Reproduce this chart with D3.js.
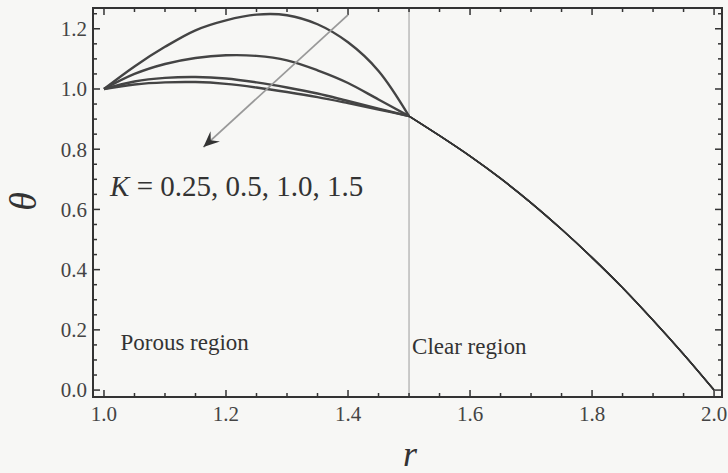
<!DOCTYPE html>
<html>
<head>
<meta charset="utf-8">
<script src="https://cdn.jsdelivr.net/npm/d3@7"></script>
<style>
  body { margin: 0; background: #f7f7f5; }
  svg { display: block; }
</style>
</head>
<body>
<div id="chart-container"></div>
<script>
// data
const rPorous = [1.0, 1.05, 1.1, 1.15, 1.2, 1.25, 1.3, 1.35, 1.4, 1.45, 1.5];
const thetaK025 = [1.0, 1.075, 1.14, 1.195, 1.228, 1.247, 1.245, 1.215, 1.155, 1.06, 0.91];
const thetaK05 = [1.0, 1.05, 1.083, 1.103, 1.112, 1.11, 1.095, 1.062, 1.02, 0.965, 0.91];
const thetaK10 = [1.0, 1.025, 1.037, 1.04, 1.035, 1.022, 1.005, 0.985, 0.96, 0.935, 0.91];
const thetaK15 = [1.0, 1.015, 1.022, 1.023, 1.017, 1.005, 0.99, 0.973, 0.953, 0.932, 0.91];
const rClear = [1.5, 1.55, 1.6, 1.65, 1.7, 1.75, 1.8, 1.85, 1.9, 1.95, 2.0];
const thetaClear = [0.91, 0.845, 0.777, 0.703, 0.622, 0.534, 0.44, 0.34, 0.232, 0.119, 0.0];
const xTickLabels = ["1.0", "1.2", "1.4", "1.6", "1.8", "2.0"];
const yTickLabels = ["0.0", "0.2", "0.4", "0.6", "0.8", "1.0", "1.2"];
const porousSeries = [thetaK025, thetaK05, thetaK10, thetaK15];

const width = 728;
const height = 473;
const frame = { left: 93, right: 722, top: 8, bottom: 397 };

const xScale = d3.scaleLinear().domain([0.982, 2.013]).range([frame.left, frame.right]);
const yScale = d3.scaleLinear().domain([-0.023, 1.269]).range([frame.bottom, frame.top]);

const svg = d3
  .select("#chart-container")
  .append("svg")
  .attr("width", width)
  .attr("height", height);

const serif = "'Liberation Serif', 'Times New Roman', serif";

// arrow marker
svg
  .append("defs")
  .append("marker")
  .attr("id", "head")
  .attr("viewBox", "-16 -8 18 16")
  .attr("refX", 0)
  .attr("refY", 0)
  .attr("markerWidth", 18)
  .attr("markerHeight", 16)
  .attr("markerUnits", "userSpaceOnUse")
  .attr("orient", "auto")
  .append("path")
  .attr("d", "M0,0 L-16,-7 L-10,0 L-16,7 Z")
  .attr("fill", "#333");

// vertical interface line at r = 1.5
svg
  .append("line")
  .attr("x1", xScale(1.5))
  .attr("x2", xScale(1.5))
  .attr("y1", frame.top)
  .attr("y2", frame.bottom)
  .attr("stroke", "#aaa")
  .attr("stroke-width", 1.2);

// ticks on all four sides, pointing inward
const minor = d3.range(0, 21).map((i) => +(1.0 + i * 0.05).toFixed(2));
const minorY = d3.range(0, 26).map((i) => +(i * 0.05).toFixed(2));
const isMajor = (v) => Math.abs(v * 5 - Math.round(v * 5)) < 1e-6;

const tickG = svg.append("g").attr("stroke", "#333").attr("stroke-width", 1.5);
minor.forEach((v) => {
  const len = isMajor(v) ? 7 : 4;
  tickG.append("line").attr("x1", xScale(v)).attr("x2", xScale(v))
    .attr("y1", frame.bottom).attr("y2", frame.bottom - len);
  tickG.append("line").attr("x1", xScale(v)).attr("x2", xScale(v))
    .attr("y1", frame.top).attr("y2", frame.top + len);
});
minorY.forEach((v) => {
  const len = isMajor(v) ? 7 : 4;
  tickG.append("line").attr("y1", yScale(v)).attr("y2", yScale(v))
    .attr("x1", frame.left).attr("x2", frame.left + len);
  tickG.append("line").attr("y1", yScale(v)).attr("y2", yScale(v))
    .attr("x1", frame.right).attr("x2", frame.right - len);
});

// frame
svg
  .append("rect")
  .attr("x", frame.left)
  .attr("y", frame.top)
  .attr("width", frame.right - frame.left)
  .attr("height", frame.bottom - frame.top)
  .attr("fill", "none")
  .attr("stroke", "#333")
  .attr("stroke-width", 2);

// tick labels
svg
  .selectAll(".xlab")
  .data(xTickLabels)
  .join("text")
  .attr("x", (d) => xScale(+d))
  .attr("y", 421)
  .attr("text-anchor", "middle")
  .style("font-family", serif)
  .style("font-size", "21px")
  .style("fill", "#444")
  .text((d) => d);

svg
  .selectAll(".ylab")
  .data(yTickLabels)
  .join("text")
  .attr("x", 87)
  .attr("y", (d) => yScale(+d))
  .attr("dy", "0.35em")
  .attr("text-anchor", "end")
  .style("font-family", serif)
  .style("font-size", "21px")
  .style("fill", "#444")
  .text((d) => d);

// curves
const line = d3
  .line()
  .x((d) => xScale(d[0]))
  .y((d) => yScale(d[1]))
  .curve(d3.curveCatmullRom);

porousSeries.forEach((vals) => {
  svg
    .append("path")
    .datum(rPorous.map((r, i) => [r, vals[i]]))
    .attr("fill", "none")
    .attr("stroke", "#444")
    .attr("stroke-width", 2.4)
    .attr("d", line);
});
for (let k = 0; k < porousSeries.length; k++) {
  svg
    .append("path")
    .datum(rClear.map((r, i) => [r, thetaClear[i]]))
    .attr("fill", "none")
    .attr("stroke", "#333")
    .attr("stroke-width", 1.5)
    .attr("d", line);
}

// arrow
svg
  .append("line")
  .attr("x1", xScale(1.4))
  .attr("y1", yScale(1.246))
  .attr("x2", xScale(1.163))
  .attr("y2", yScale(0.807))
  .attr("stroke", "#999")
  .attr("stroke-width", 1.8)
  .attr("marker-end", "url(#head)");

// annotations
const kText = svg
  .append("text")
  .attr("x", xScale(1.01))
  .attr("y", yScale(0.643))
  .style("font-family", serif)
  .style("font-size", "29px")
  .style("fill", "#333");
kText.append("tspan").style("font-style", "italic").text("K");
kText.append("tspan").text(" = 0.25, 0.5, 1.0, 1.5");

svg
  .append("text")
  .attr("x", xScale(1.027))
  .attr("y", yScale(0.133))
  .style("font-family", serif)
  .style("font-size", "23px")
  .style("fill", "#333")
  .text("Porous region");

svg
  .append("text")
  .attr("x", xScale(1.505))
  .attr("y", yScale(0.12))
  .style("font-family", serif)
  .style("font-size", "23px")
  .style("fill", "#333")
  .text("Clear region");

// axis labels
svg
  .append("text")
  .attr("transform", `translate(36, ${yScale(0.6) - 8}) rotate(-90)`)
  .attr("text-anchor", "middle")
  .style("font-family", serif)
  .style("font-style", "italic")
  .style("font-size", "38px")
  .style("fill", "#333")
  .text("θ");

svg
  .append("text")
  .attr("x", 410)
  .attr("y", 466)
  .attr("text-anchor", "middle")
  .style("font-family", serif)
  .style("font-style", "italic")
  .style("font-size", "36px")
  .style("fill", "#333")
  .text("r");
</script>
</body>
</html>
